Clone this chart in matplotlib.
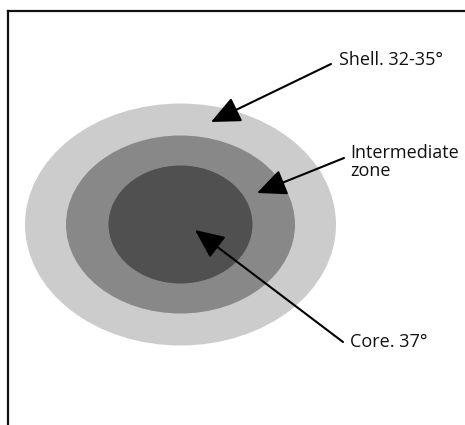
import matplotlib
matplotlib.use("Agg")
import matplotlib.pyplot as plt
from matplotlib.patches import Ellipse

# zones, outer to inner (pixel-space units of the original drawing)
zones = ["Shell", "Intermediate", "Core"]
zone_widths = [311, 229, 144]
zone_heights = [242, 178, 118]
zone_colors = ["#cccccc", "#888888", "#505050"]
center = (180.5, 224.5)

labels = ["Shell. 32-35°", "Intermediate\nzone", "Core. 37°"]
arrow_tips = [(211, 122), (257, 193), (195, 230)]
arrow_tails = [(331, 64), (344, 158), (343, 342)]
text_pos = [(339, 60), (350, 162), (350, 342)]

W, H = 465, 425
fig = plt.figure(figsize=(W / 100, H / 100), dpi=100)

# frame: only top and left edges visible
fr = fig.add_axes([7.5 / W, 0, 1 - 7.5 / W, 1 - 10.5 / H])
for side in ("right", "bottom"):
    fr.spines[side].set_visible(False)
for side in ("top", "left"):
    fr.spines[side].set_linewidth(1.6)
    fr.spines[side].set_color("#111111")
fr.set_xticks([])
fr.set_yticks([])
fr.patch.set_alpha(0)

ax = fig.add_axes([0, 0, 1, 1])
ax.set_xlim(0, W)
ax.set_ylim(H, 0)
ax.axis("off")
ax.patch.set_alpha(0)

for w, h, c in zip(zone_widths, zone_heights, zone_colors):
    ax.add_patch(Ellipse(center, w, h, facecolor=c, edgecolor="none"))

for lab, tip, tail, tp in zip(labels, arrow_tips, arrow_tails, text_pos):
    ax.annotate(
        "",
        xy=tip,
        xytext=tail,
        arrowprops=dict(
            arrowstyle="-|>,head_length=1.0,head_width=0.45",
            mutation_scale=18,
            color="black",
            lw=1.5,
            shrinkA=0,
            shrinkB=0,
        ),
    )
    ax.text(tp[0], tp[1], lab, fontsize=13, family="Open Sans", color="#111111",
            ha="left", va="center", linespacing=0.95)

fig.savefig("out.png", dpi=100)
